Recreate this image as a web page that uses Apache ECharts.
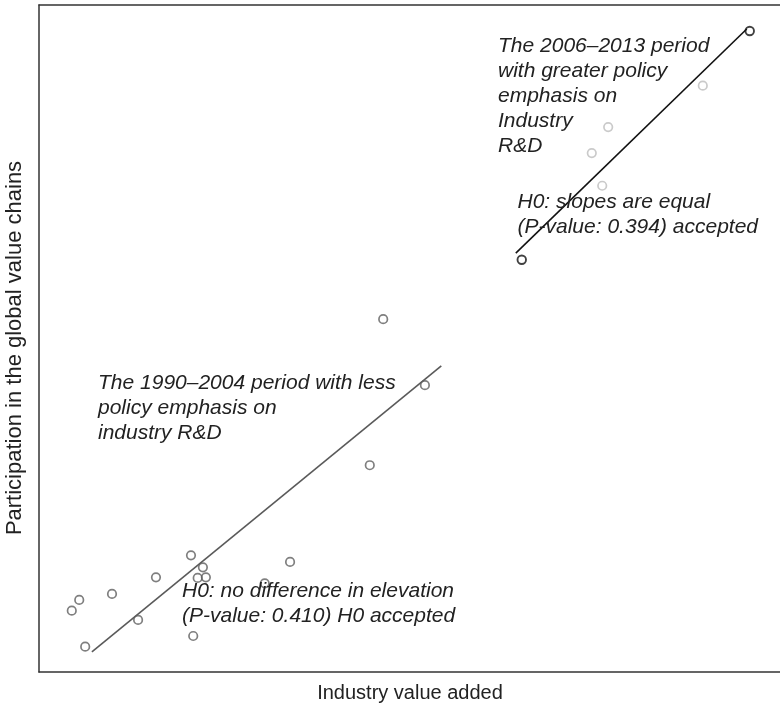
<!DOCTYPE html>
<html><head><meta charset="utf-8">
<script src="https://cdn.jsdelivr.net/npm/echarts@6/dist/echarts.min.js"></script>
<style>html,body{margin:0;padding:0;background:#fff}#c{width:780px;height:709px}</style>
</head><body><div id="c"></div>
<script>
// 1990–2004 period (less policy emphasis): [industry value added, GVC participation]
const period1Points = [
  [4.4, 9.2], [5.4, 10.8], [6.2, 3.8], [9.8, 11.7], [13.3, 7.8], [15.7, 14.2],
  [20.4, 17.5], [22.0, 15.7], [21.3, 14.1], [22.4, 14.2], [20.7, 5.4],
  [30.3, 13.3], [33.7, 16.5], [44.4, 31.0], [46.2, 52.9], [51.8, 43.0]
];
const period1Fit = [[7.1, 3.0], [54.0, 45.9]];
// 2006–2013 period (greater policy emphasis)
const period2Points = [[89.1, 87.9], [76.4, 81.7], [74.2, 77.8], [75.6, 72.9]];
const period2Ends = [[95.4, 96.1], [64.8, 61.8]];
const period2Fit = [[64.0, 62.8], [95.0, 96.4]];

const xTitle = 'Industry value added';
const yTitle = 'Participation in the global value chains';
const note2 = 'The 2006–2013 period\nwith greater policy\nemphasis on\nIndustry\nR&D';
const note2b = 'H0: slopes are equal\n(P-value: 0.394) accepted';
const note1 = 'The 1990–2004 period with less\npolicy emphasis on\nindustry R&D';
const note1b = 'H0: no difference in elevation\n(P-value: 0.410) H0 accepted';

const chart = echarts.init(document.getElementById('c'), null, {renderer: 'canvas'});
const FONT = '"Liberation Sans", Arial, sans-serif';
const noteStyle = {fontFamily: FONT, fontStyle: 'italic', fontSize: 21, lineHeight: 25, fill: '#222'};
const frameLine = {show: true, onZero: false, lineStyle: {color: '#333', width: 1.5}};
const hidden = {axisTick: {show: false}, axisLabel: {show: false}, splitLine: {show: false}};
chart.setOption({
  animation: false,
  backgroundColor: '#fff',
  grid: {left: 39, top: 5, width: 745, height: 667, outerBoundsMode: 'none', containLabel: false},
  xAxis: [
    Object.assign({type: 'value', min: 0, max: 100, position: 'bottom', axisLine: frameLine}, hidden),
    Object.assign({type: 'value', min: 0, max: 100, position: 'top', axisLine: frameLine}, hidden)
  ],
  yAxis: Object.assign({type: 'value', min: 0, max: 100, position: 'left', axisLine: frameLine}, hidden),
  series: [
    {type: 'line', data: period1Fit, symbol: 'none', lineStyle: {color: '#5a5a5a', width: 1.6}, z: 2},
    {type: 'line', data: period2Fit, symbol: 'none', lineStyle: {color: '#111', width: 1.6}, z: 2},
    {type: 'scatter', data: period1Points, symbol: 'circle', symbolSize: 8.5,
      itemStyle: {color: 'rgba(255,255,255,0)', borderColor: '#5f5f5f', borderWidth: 1.7}, z: 3},
    {type: 'scatter', data: period2Points, symbol: 'circle', symbolSize: 8.5,
      itemStyle: {color: 'rgba(255,255,255,0)', borderColor: '#bdbdbd', borderWidth: 1.7}, z: 3},
    {type: 'scatter', data: period2Ends, symbol: 'circle', symbolSize: 8.5,
      itemStyle: {color: 'rgba(255,255,255,0)', borderColor: '#111', borderWidth: 1.9}, z: 3}
  ],
  graphic: [
    {type: 'text', left: 498, top: 34, z: 10, style: Object.assign({text: note2}, noteStyle)},
    {type: 'text', right: 22, top: 190, z: 10, style: Object.assign({text: note2b, align: 'right'}, noteStyle)},
    {type: 'text', left: 98, top: 371, z: 10, style: Object.assign({text: note1}, noteStyle)},
    {type: 'text', left: 182, top: 579, z: 10, style: Object.assign({text: note1b}, noteStyle)},
    {type: 'text', x: 410, y: 693, z: 10, style: {text: xTitle, fontFamily: FONT, fontSize: 20, fill: '#222', align: 'center', verticalAlign: 'middle'}},
    {type: 'text', x: 15, y: 348, rotation: Math.PI / 2, z: 10, style: {text: yTitle, fontFamily: FONT, fontSize: 22, fill: '#222', align: 'center', verticalAlign: 'middle'}}
  ]
});
</script></body></html>
